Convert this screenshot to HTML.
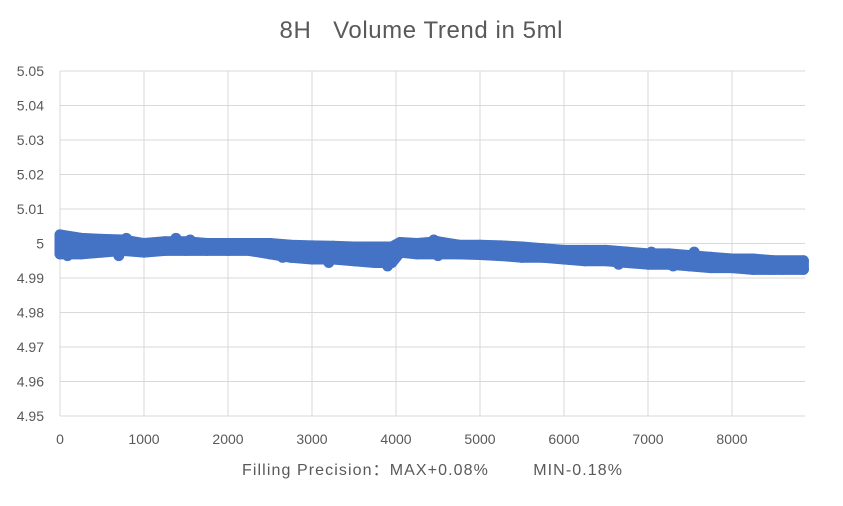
<!DOCTYPE html>
<html><head><meta charset="utf-8"><style>
body{margin:0;background:#fff;font-family:"Liberation Sans","Noto Sans CJK SC",sans-serif}
text{white-space:pre}
</style></head><body>
<svg width="843" height="506" style="display:block">
<g id="grid"></g>
<g id="band"></g>
<g id="labels"></g>
<text x="421" y="38" text-anchor="middle" font-size="24" fill="#595959" textLength="283" lengthAdjust="spacing">8H   Volume Trend in 5ml</text>
<text x="432" y="475" text-anchor="middle" font-size="16" fill="#595959" textLength="380" lengthAdjust="spacing">Filling Precision：MAX+0.08%        MIN-0.18%</text>
</svg>
<script>
const xTicks=[0,1000,2000,3000,4000,5000,6000,7000,8000];
const yTicks=[4.95,4.96,4.97,4.98,4.99,5,5.01,5.02,5.03,5.04,5.05];
const xs=[0,250,500,750,1000,1250,1500,1750,2000,2250,2500,2750,3000,3250,3500,3750,3950,4050,4250,4500,4750,5000,5250,5500,5750,6000,6250,6500,6750,7000,7250,7500,7750,8000,8250,8500,8850];
const highs=[5.0025,5.0015,5.0012,5.001,5.0,5.0005,5.0005,5.0,5.0,5.0,5.0,4.9995,4.9993,4.9992,4.999,4.999,4.999,5.0003,5.0,5.0005,4.9995,4.9995,4.9993,4.999,4.9985,4.998,4.998,4.998,4.9975,4.997,4.997,4.9965,4.996,4.9955,4.9955,4.995,4.995];
const lows=[4.997,4.997,4.9975,4.998,4.9975,4.998,4.998,4.998,4.998,4.998,4.997,4.996,4.9955,4.9955,4.995,4.9945,4.9945,4.9975,4.997,4.997,4.997,4.9968,4.9965,4.996,4.996,4.9955,4.995,4.995,4.9945,4.994,4.994,4.9935,4.993,4.993,4.9925,4.9925,4.9925];
const outX=[90,420,700,790,1380,1550,2500,2650,3200,3700,3900,4450,4500,5330,5650,6500,6650,7040,7300,7550,8450,8600];
const outY=[4.9965,4.9975,4.9965,5.0015,5.0015,5.001,4.9975,4.996,4.9945,4.9975,4.9935,5.001,4.9965,4.9985,4.998,4.9975,4.994,4.9975,4.9935,4.9975,4.9925,4.9925];
const X=v=>60+v*0.084;
const Y=v=>416-(v-4.95)/0.1*345;
const NS='http://www.w3.org/2000/svg';
function mk(t,a,p){const e=document.createElementNS(NS,t);for(const k in a)e.setAttribute(k,a[k]);p.appendChild(e);return e;}
const grid=document.getElementById('grid'),lab=document.getElementById('labels'),band=document.getElementById('band');
yTicks.forEach(v=>{
 const l=mk('line',{x1:60,x2:805,y1:Y(v),y2:Y(v),stroke:'#d9d9d9','stroke-width':1},grid);
 
 
 const t=mk('text',{x:44,y:Y(v)+5,'text-anchor':'end','font-size':14,fill:'#595959'},lab);
 t.textContent=String(v);
 
 
});
xTicks.forEach(v=>{
 const l=mk('line',{x1:X(v),x2:X(v),y1:71,y2:416,stroke:'#d9d9d9','stroke-width':1},grid);
 
 
 const t=mk('text',{x:X(v),y:444,'text-anchor':'middle','font-size':14,fill:'#595959'},lab);
 t.textContent=String(v);
 
 
});
let pts=xs.map((x,i)=>X(x)+','+Y(highs[i]));
for(let i=xs.length-1;i>=0;i--)pts.push(X(xs[i])+','+Y(lows[i]));
const poly=mk('polygon',{points:pts.join(' '),fill:'#4472c4',stroke:'#4472c4','stroke-width':11,'stroke-linejoin':'round'},band);


xs.forEach((x,i)=>{
 [highs[i],lows[i]].forEach(v=>{
  const c=mk('circle',{cx:X(x),cy:Y(v),r:5.5,fill:'#4472c4'},band);
  
  
 });
});
outX.forEach((x,i)=>{
 const c=mk('circle',{cx:X(x),cy:Y(outY[i]),r:5.5,fill:'#4472c4'},band);
 
 
});
</script>
</body></html>
